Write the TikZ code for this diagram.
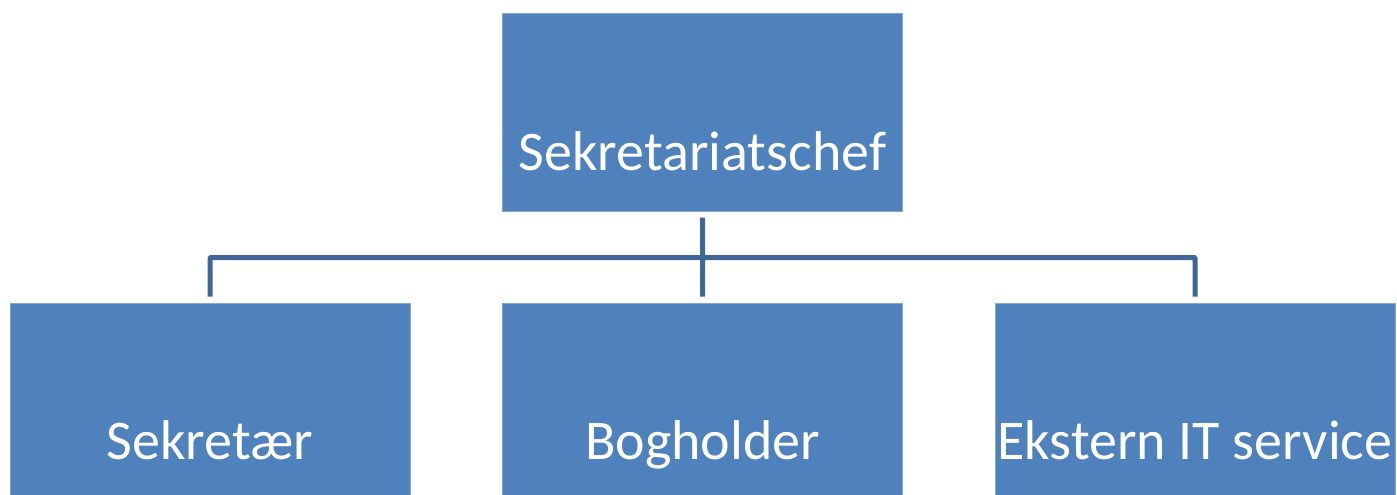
\documentclass[tikz,border=0pt]{standalone}
\usepackage{fontspec}
\setmainfont{Carlito}
\usetikzlibrary{positioning}

\definecolor{boxblue}{HTML}{4F81BD}
\definecolor{linkblue}{HTML}{3E6797}

\begin{document}
\begin{tikzpicture}[x=1pt,y=-1pt,on grid,node distance=289pt,
  unit/.style={rectangle,fill=boxblue,draw=boxblue!70!white,line width=1pt,
    minimum width=400pt,minimum height=197pt,inner sep=0pt,
    text=white,font=\fontsize{56}{60}\selectfont,text height=115pt,text depth=0pt},
  link/.style={draw=linkblue,line width=5pt,rounded corners=1pt}]
  \useasboundingbox (0,0) rectangle (1397,495);
  \path
  node[unit] (chef) at (702.5,112.5) {Sekretariatschef}
  node[unit] (bog) [below=of chef] {Bogholder}
  node[unit] (sek) [left=492.5pt of bog] {Sekretær}
  node[unit] (it) [right=492.5pt of bog] {Ekstern IT service}
  ;
  \path[link]
  ([yshift=6pt]sek.north) |- ([yshift=45pt]it.north) -- ([yshift=6pt]it.north)
  ([yshift=-6pt]chef.south) -- ([yshift=6pt]bog.north)
  ;
\end{tikzpicture}
\end{document}
